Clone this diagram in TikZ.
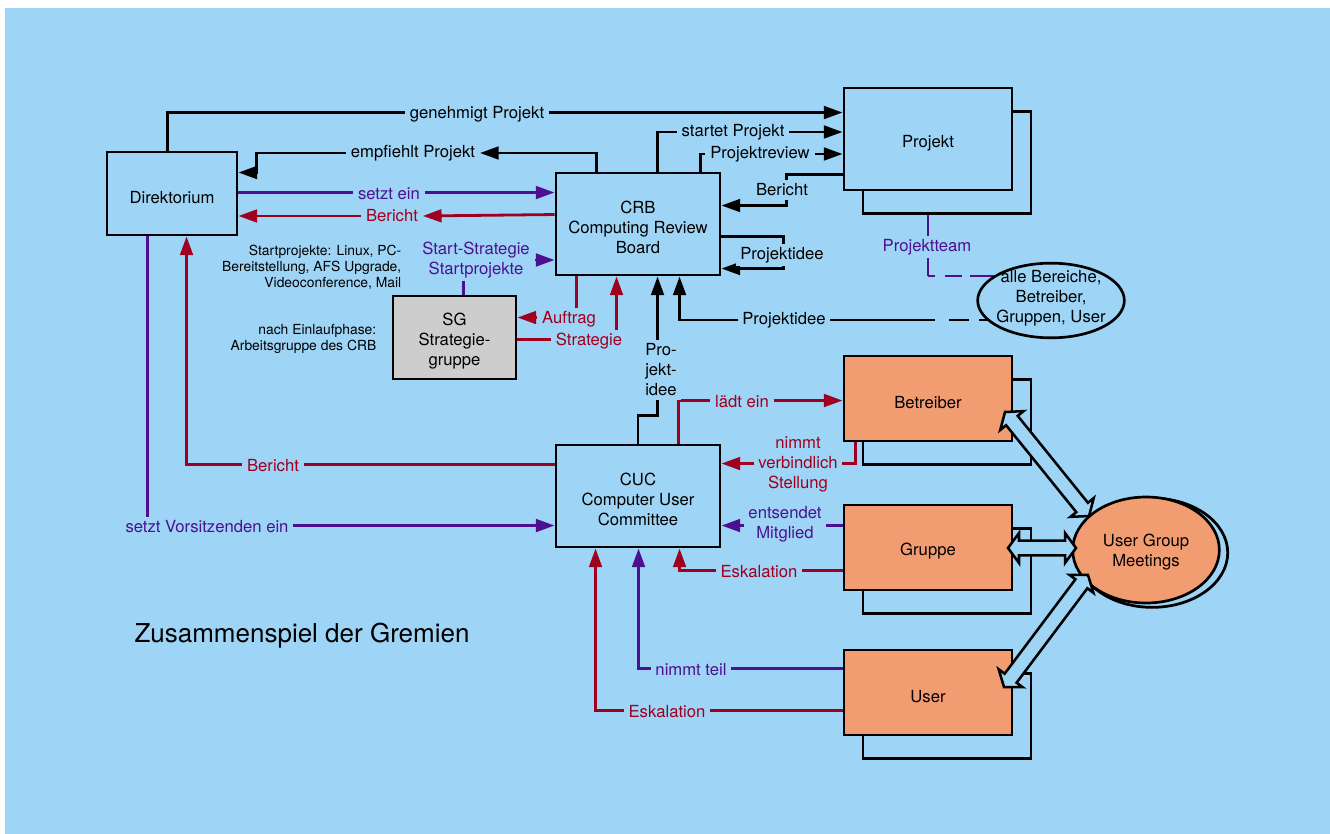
\documentclass[tikz,border=0pt]{standalone}
\usepackage{fontspec}
\setmainfont{TeX Gyre Heros}
\usetikzlibrary{arrows.meta,calc,shapes.geometric,shadows}
\definecolor{skyb}{RGB}{158,212,245}
\definecolor{orng}{RGB}{242,156,114}
\definecolor{sggray}{RGB}{205,205,205}
\definecolor{dred}{RGB}{160,0,32}
\definecolor{purp}{RGB}{76,16,144}
\pgfdeclarelayer{paper}
\pgfdeclarelayer{wires}
\pgfsetlayers{paper,wires,main}

% first-line strut that sets box captions a little below centre
\newcommand\topgap{\rule{0pt}{15pt}}

% hollow double-headed broad arrow between two points
\newcommand\fatarrow[2]{%
  \draw[fat] let \p1=($(#2)-(#1)$), \n1={atan2(\y1,\x1)} in
    (#1) -- ($(#1)+(\n1:8.25pt)+(\n1+90:11.25pt)$) -- ($(#1)+(\n1:8.25pt)+(\n1+90:5.6pt)$)
    -- ($(#2)+(\n1+180:8.25pt)+(\n1+90:5.6pt)$) -- ($(#2)+(\n1+180:8.25pt)+(\n1+90:11.25pt)$)
    -- (#2) -- ($(#2)+(\n1+180:8.25pt)+(\n1-90:11.25pt)$) -- ($(#2)+(\n1+180:8.25pt)+(\n1-90:5.6pt)$)
    -- ($(#1)+(\n1:8.25pt)+(\n1-90:5.6pt)$) -- ($(#1)+(\n1:8.25pt)+(\n1-90:11.25pt)$) -- cycle;}

\tikzset{
  box/.style={draw, line width=2.2pt, fill=skyb, align=center, inner sep=0pt},
  stack/.style={copy shadow={shadow xshift=14.25pt, shadow yshift=-17.5pt, fill=skyb, draw=black, line width=2.2pt}},
  wire/.style={line width=2.1pt},
  arrowed/.style={-{Triangle[length=14pt,width=9.5pt]}},
  lbl/.style={fill=skyb, inner xsep=3.5pt, inner ysep=2.5pt, align=center},
  fat/.style={draw, line width=1.9pt, fill=skyb, line join=miter},
  note/.style={align=right, font=\fontsize{10.4}{12}\selectfont, anchor=east},
}

\begin{document}
\begin{tikzpicture}[x=0.75pt,y=-0.75pt, every node/.append style={font=\fontsize{12.5}{15}\selectfont}]
\useasboundingbox (0,0) rectangle (1330,834);
\begin{pgfonlayer}{paper}
  \fill[white] (0,0) rectangle (1330,834);
  \fill[skyb] (5,8) rectangle (1330,834);
\end{pgfonlayer}

% boards and groups
\node[box, minimum width=97.5pt, minimum height=62.25pt] (Dir) at (172,193.5) {\topgap Direktorium};
\node[box, minimum width=123pt, minimum height=76.5pt] (CRB) at (638,224) {\topgap CRB\\Computing Review\\Board};
\node[box, stack, minimum width=126pt, minimum height=76.5pt] (Proj) at (928,139) {\topgap Projekt};
\node[box, fill=sggray, minimum width=92.25pt, minimum height=62.25pt] (SG) at (454.5,337.5) {\topgap SG\\Strategie-\\gruppe};
\node[box, minimum width=123pt, minimum height=76.5pt] (CUC) at (638,496) {\topgap CUC\\Computer User\\Committee};
\node[box, stack, fill=orng, minimum width=126pt, minimum height=63.75pt] (Betr) at (928,398.5) {\topgap Betreiber};
\node[box, stack, fill=orng, minimum width=126pt, minimum height=63.75pt] (Grp) at (928,547.5) {\topgap Gruppe};
\node[box, stack, fill=orng, minimum width=126pt, minimum height=63.75pt] (Usr) at (928,692.5) {\topgap User};

\node[ellipse, draw, line width=2pt, fill=skyb, minimum width=110pt, minimum height=56pt, inner sep=0pt] (alle) at (1051,300.5) {};
\node[align=center] (alletxt) at (1051,298) {alle Bereiche,\\Betreiber,\\Gruppen, User};

\node[ellipse, draw, line width=2pt, fill=orng, align=center, inner sep=0pt,
      minimum width=110pt, minimum height=79.5pt,
      copy shadow={shadow xshift=4.5pt, shadow yshift=-2pt, shadow scale=1.03, fill=skyb, draw=black, line width=2pt}]
      (UGM) at (1146,550) {\rule{0pt}{12pt}User Group\\Meetings};

% broad arrows to the user group meetings
\coordinate (f1a) at (1005,412);
\coordinate (f1b) at (1089,516);
\coordinate (f2a) at (1008,548);
\coordinate (f2b) at (1076,548);
\coordinate (f3a) at (1004,687);
\coordinate (f3b) at (1088,575);
\fatarrow{f1a}{f1b}
\fatarrow{f2a}{f2b}
\fatarrow{f3a}{f3b}

% connector labels
\node[lbl] (lgen) at (477,114) {genehmigt Projekt};
\node[lbl] (lempf) at (413,153) {empfiehlt Projekt};
\node[lbl] (lstart) at (733,132) {startet Projekt};
\node[lbl] (lrev) at (760,154) {Projektreview};
\node[lbl] (lber0) at (782,190) {Bericht};
\node[lbl] (lidee1) at (782,255) {Projektidee};
\node[lbl] (lidee2) at (784,320) {Projektidee};
\node[lbl, align=left] (lidee3) at (661,370) {Pro-\\jekt-\\idee};

\node[lbl, text=purp] (lsetzt) at (389,194) {setzt ein};
\node[lbl, text=purp] (lstrat) at (476,260) {Start-Strategie\\Startprojekte};
\node[lbl, text=purp] (lvors) at (207,527) {setzt Vorsitzenden ein};
\node[lbl, text=purp] (lents) at (785,524) {entsendet\\Mitglied};
\node[lbl, text=purp] (lteil) at (691,670) {nimmt teil};
\node[lbl, text=purp] (lteam) at (927,247) {Projektteam};

\node[lbl, text=dred] (lber1) at (392,216) {Bericht};
\node[lbl, text=dred] (lauf) at (569,319) {Auftrag};
\node[lbl, text=dred] (lstg) at (589,341) {Strategie};
\node[lbl, text=dred] (lber2) at (273,466) {Bericht};
\node[lbl, text=dred] (llad) at (742,402) {lädt ein};
\node[lbl, text=dred] (lnimm) at (798,464) {nimmt\\verbindlich\\Stellung};
\node[lbl, text=dred] (lesk1) at (759,572) {Eskalation};
\node[lbl, text=dred] (lesk2) at (667,712) {Eskalation};

% side notes and title
\node[note] (nstart) at (406,267) {Startprojekte: Linux, PC-\\Bereitstellung, AFS Upgrade,\\Videoconference, Mail};
\node[note] (nlauf) at (381,339) {nach Einlaufphase:\\Arbeitsgruppe des CRB};
\node[font=\fontsize{19.5}{23}\selectfont] (title) at (302,636) {Zusammenspiel der Gremien};

\begin{pgfonlayer}{wires}
  % black flows
  \draw[wire,arrowed] ($(Dir.north west)+(62,0)$) |- ($(Proj.north west)+(0,26)$);
  \draw[wire,arrowed] ($(CRB.north west)+(42,0)$) |- (lempf.east);
  \draw[wire,arrowed] (lempf.west) -| ($(Dir.north east)+(18,22)$) -- ($(Dir.north east)+(0,22)$);
  \draw[wire] ($(CRB.north west)+(103,0)$) |- (lstart.west);
  \draw[wire,arrowed] (lstart.east) -- (lstart.east -| Proj.west);
  \draw[wire] ($(CRB.north west)+(146,0)$) |- (lrev.west);
  \draw[wire,arrowed] (lrev.east) -- (lrev.east -| Proj.west);
  \draw[wire,arrowed] ($(Proj.north west)+(0,88)$) -| ($(CRB.north east)+(65,34)$) -- ($(CRB.north east)+(0,34)$);
  \draw[wire,arrowed] ($(CRB.north east)+(0,65)$) -| ($(CRB.north east)+(62,97)$) -- ($(CRB.north east)+(0,97)$);
  \coordinate (idee) at (935,320);
  \draw[wire,arrowed] (idee) -| ($(CRB.south west)+(125,0)$);
  \draw[wire, dash pattern=on 0pt off 10.5pt on 15pt off 7.5pt on 60pt] (idee) -- (idee -| alle.center);
  \draw[wire,arrowed] (CUC.north) -- ++(0,-28) -| ($(CRB.south west)+(103,0)$);

  % purple flows
  \draw[wire,purp,arrowed] ($(Dir.north east)+(0,42)$) -- ($(CRB.north west)+(0,21)$);
  \draw[wire,purp] ($(SG.north west)+(72,0)$) -- ++(0,-20);
  \draw[wire,purp,arrowed] (lstrat.east) -- (lstrat.east -| CRB.west);
  \draw[wire,purp,arrowed] ($(Dir.south west)+(42,0)$) |- ($(CUC.north west)+(0,82)$);
  \draw[wire,purp,arrowed] ($(Grp.north west)+(0,22)$) -- ($(CUC.north east)+(0,82)$);
  \draw[wire,purp,arrowed] ($(Usr.north west)+(0,20)$) -| ($(CUC.south west)+(84,0)$);
  \coordinate (team) at (928,276);
  \draw[wire,purp,arrowed] (team) -- (team |- Proj.south);
  \draw[wire,purp,dash pattern=on 5.25pt off 7.5pt on 12.75pt off 6pt on 60pt] (team) -- (team -| alle.center);

  % red flows
  \draw[wire,dred,arrowed] ($(CRB.north west)+(0,43)$) -- (lber1.east);
  \draw[wire,dred,arrowed] (lber1.west) -- (lber1.west -| Dir.east);
  \draw[wire,dred,arrowed] ($(CRB.south west)+(22,0)$) |- ($(SG.north east)+(0,23)$);
  \draw[wire,dred,arrowed] ($(SG.north east)+(0,45)$) -| ($(CRB.south west)+(62,0)$);
  \draw[wire,dred,arrowed] ($(CUC.north west)+(0,21)$) -| ($(Dir.south west)+(81,0)$);
  \draw[wire,dred,arrowed] ($(CUC.north west)+(124,0)$) |- ($(Betr.north west)+(0,46)$);
  \draw[wire,dred,arrowed] ($(Betr.south west)+(13,0)$) |- ($(CUC.north east)+(0,20)$);
  \draw[wire,dred,arrowed] ($(Grp.north west)+(0,67)$) -| ($(CUC.south west)+(125,0)$);
  \draw[wire,dred,arrowed] ($(Usr.north west)+(0,62)$) -| ($(CUC.south west)+(41,0)$);
\end{pgfonlayer}
\end{tikzpicture}
\end{document}
